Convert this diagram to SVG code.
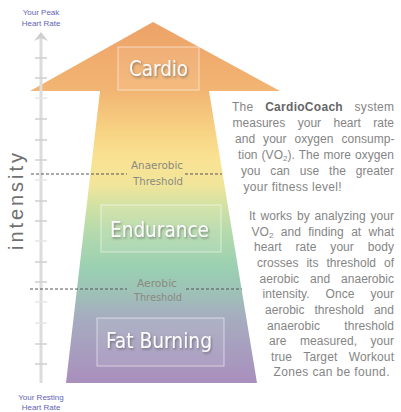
<svg xmlns="http://www.w3.org/2000/svg" width="401" height="412" viewBox="0 0 401 412">
<defs>
<linearGradient id="grad" gradientUnits="userSpaceOnUse" x1="0" y1="22" x2="0" y2="383">
<stop offset="0" stop-color="#eda268"/>
<stop offset="0.19" stop-color="#f2b573"/>
<stop offset="0.3" stop-color="#f7d283"/>
<stop offset="0.38" stop-color="#fae293"/>
<stop offset="0.45" stop-color="#f1e59a"/>
<stop offset="0.5" stop-color="#d6e2a2"/>
<stop offset="0.58" stop-color="#b5daac"/>
<stop offset="0.68" stop-color="#9ad0b2"/>
<stop offset="0.74" stop-color="#9dc4b6"/>
<stop offset="0.82" stop-color="#a6acc0"/>
<stop offset="1" stop-color="#a98fbd"/>
</linearGradient>
<filter id="shadow" x="-20%" y="-40%" width="140%" height="180%">
<feDropShadow dx="1" dy="1.5" stdDeviation="1" flood-color="#444" flood-opacity="0.55"/>
</filter>
</defs>
<style>
.zone{font-family:"DejaVu Sans Condensed","DejaVu Sans",sans-serif;font-stretch:condensed;font-size:22px;fill:#fbfbfb;text-anchor:middle;filter:url(#shadow)}
.box{fill:#ffffff;fill-opacity:0.08;stroke:#ffffff;stroke-opacity:0.55;stroke-width:1}
.thr{font-family:"DejaVu Sans Condensed","DejaVu Sans",sans-serif;font-stretch:condensed;font-size:10px;fill:#8a8a80;text-anchor:middle}
.dash{stroke:#555;stroke-width:1;stroke-dasharray:3 2;fill:none}
.tick{stroke:#cfcfcf;stroke-width:1.5}
.tick2{stroke:#e6e6e6;stroke-width:1.5}
.body{font-family:"Liberation Sans",Arial,sans-serif;font-size:12px;fill:#858585}
.b{font-weight:bold;fill:#666}
.hr{font-family:"Liberation Sans",Arial,sans-serif;font-size:8px;fill:#6464b4;text-anchor:middle}
</style>
<rect width="401" height="412" fill="#ffffff"/>
<g id="arrow">
<polygon points="153,22 280,91 209,91 257,383 66,383 100,91 30,91" fill="url(#grad)"/>
</g>
<g id="axis">
<line x1="41" y1="38" x2="41" y2="383" stroke="#dcdcdc" stroke-width="3"/>
<polygon points="34,41 41,32 48,41 41,38" fill="#cfcfcf"/>
<g>
<line class="tick" x1="35" y1="58" x2="47" y2="58"/>
<line class="tick" x1="35" y1="78" x2="47" y2="78"/>
<line class="tick2" x1="35" y1="98" x2="47" y2="98"/>
<line class="tick" x1="35" y1="119" x2="47" y2="119"/>
<line class="tick" x1="35" y1="140" x2="47" y2="140"/>
<line class="tick" x1="35" y1="160" x2="47" y2="160"/>
<line class="tick2" x1="35" y1="180" x2="47" y2="180"/>
<line class="tick" x1="35" y1="201" x2="47" y2="201"/>
<line class="tick" x1="35" y1="221" x2="47" y2="221"/>
<line class="tick2" x1="35" y1="241" x2="47" y2="241"/>
<line class="tick" x1="35" y1="262" x2="47" y2="262"/>
<line class="tick" x1="35" y1="282" x2="47" y2="282"/>
<line class="tick2" x1="35" y1="302" x2="47" y2="302"/>
<line class="tick2" x1="35" y1="323" x2="47" y2="323"/>
<line class="tick" x1="35" y1="344" x2="47" y2="344"/>
<line class="tick" x1="35" y1="364" x2="47" y2="364"/>
</g>
<text class="hr" x="41" y="14.5">Your Peak</text>
<text class="hr" x="41" y="25.5">Heart Rate</text>
<text class="hr" x="41" y="400">Your Resting</text>
<text class="hr" x="41" y="410">Heart Rate</text>
<text transform="translate(23,201.5) rotate(-90)" text-anchor="middle" textLength="97" lengthAdjust="spacing" style="font-family:'Liberation Sans',Arial,sans-serif;font-size:20px;fill:#707070">intensity</text>
</g>
<g id="threshold-lines">
<line class="dash" x1="31" y1="174" x2="127" y2="174"/>
<line class="dash" x1="185" y1="174" x2="222" y2="174"/>
<line class="dash" x1="30" y1="289" x2="127" y2="289"/>
<line class="dash" x1="186" y1="289" x2="242" y2="289"/>
</g>
<g id="cardio">
<rect class="box" x="118" y="47" width="81" height="43"/>
<text class="zone" x="158.5" y="76" textLength="59" lengthAdjust="spacingAndGlyphs">Cardio</text>
</g>
<g id="endurance">
<rect class="box" x="101" y="205" width="120" height="47"/>
<text class="zone" x="159.5" y="237" textLength="99" lengthAdjust="spacingAndGlyphs">Endurance</text>
</g>
<g id="fat-burning">
<rect class="box" x="97" y="318" width="127" height="48"/>
<text class="zone" x="159" y="348" textLength="106" lengthAdjust="spacingAndGlyphs">Fat Burning</text>
</g>
<g id="anaerobic-threshold">
<text class="thr" x="157" y="169" textLength="52" lengthAdjust="spacingAndGlyphs">Anaerobic</text>
<text class="thr" x="158" y="185" textLength="50" lengthAdjust="spacingAndGlyphs">Threshold</text>
</g>
<g id="aerobic-threshold">
<text class="thr" x="157" y="287" textLength="40" lengthAdjust="spacingAndGlyphs">Aerobic</text>
<text class="thr" x="158" y="301" textLength="48" lengthAdjust="spacingAndGlyphs">Threshold</text>
</g>
<g id="description">
<text class="body" x="232" y="111" textLength="162" lengthAdjust="spacing" word-spacing="8">The <tspan class="b">CardioCoach</tspan> system</text>
<text class="body" x="232.5" y="127" textLength="161.5" lengthAdjust="spacing" word-spacing="9">measures your heart rate</text>
<text class="body" x="235" y="143" textLength="159.5" lengthAdjust="spacing" word-spacing="4.5">and your oxygen consump-</text>
<text class="body" x="238" y="159" textLength="156" lengthAdjust="spacing" word-spacing="0.5">tion (VO<tspan font-size="8" dy="2">2</tspan><tspan dy="-2">).</tspan> The more oxygen</text>
<text class="body" x="241" y="175" textLength="153" lengthAdjust="spacing" word-spacing="6.5">you can use the greater</text>
<text class="body" x="243.5" y="190.5" textLength="98" lengthAdjust="spacing">your fitness level!</text>
<text class="body" x="249" y="220" textLength="145" lengthAdjust="spacing" word-spacing="1.5">It works by analyzing your</text>
<text class="body" x="251.5" y="235.8" textLength="142.5" lengthAdjust="spacing" word-spacing="4">VO<tspan font-size="8" dy="2">2</tspan><tspan dy="-2"> and finding at what</tspan></text>
<text class="body" x="254" y="251.4" textLength="140" lengthAdjust="spacing" word-spacing="10.5">heart rate your body</text>
<text class="body" x="257" y="267" textLength="137" lengthAdjust="spacing" word-spacing="4.5">crosses its threshold of</text>
<text class="body" x="259.5" y="282.8" textLength="134.5" lengthAdjust="spacing" word-spacing="7.5">aerobic and anaerobic</text>
<text class="body" x="262.5" y="298.4" textLength="131.5" lengthAdjust="spacing" word-spacing="12.5">intensity. Once your</text>
<text class="body" x="265" y="314" textLength="129" lengthAdjust="spacing" word-spacing="6.5">aerobic threshold and</text>
<text class="body" x="267" y="329.6" textLength="127" lengthAdjust="spacing" word-spacing="21">anaerobic threshold</text>
<text class="body" x="269" y="345.2" textLength="125" lengthAdjust="spacing" word-spacing="10">are measured, your</text>
<text class="body" x="271" y="360.8" textLength="123" lengthAdjust="spacing" word-spacing="8">true Target Workout</text>
<text class="body" x="273.5" y="376.4" textLength="116" lengthAdjust="spacing">Zones can be found.</text>
</g>
</svg>
